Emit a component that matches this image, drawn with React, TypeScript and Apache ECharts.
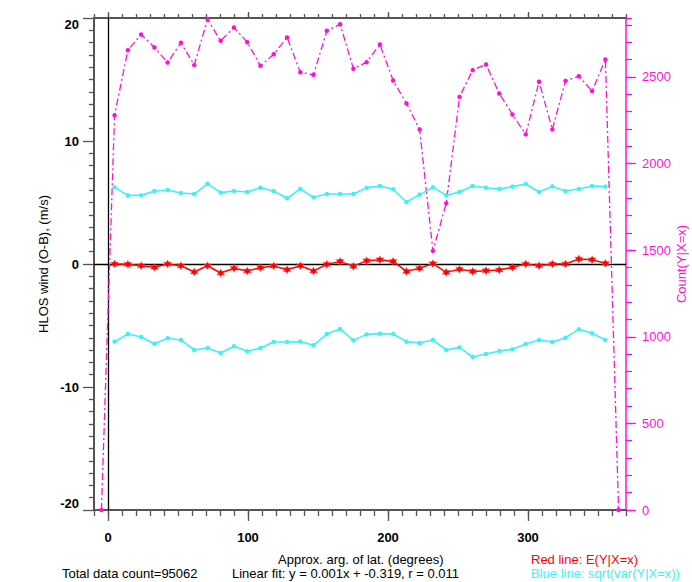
import React, { useEffect, useRef } from "react";
import * as echarts from "echarts";

// Bin centres (degrees) of the 38 latitude-argument bins
const binCenters = [
  4.7, 14.2, 23.7, 33.2, 42.6, 52.1, 61.6, 71.1, 80.5, 90.0,
  99.5, 108.9, 118.4, 127.9, 137.4, 146.8, 156.3, 165.8, 175.3, 184.7,
  194.2, 203.7, 213.2, 222.6, 232.1, 241.6, 251.1, 260.5, 270.0, 279.5,
  288.9, 298.4, 307.9, 317.4, 326.8, 336.3, 345.8, 355.3,
];

// Count(Y|X=x)
const countValues = [
  2279, 2654, 2745, 2670, 2583, 2697, 2568, 2833, 2708, 2785,
  2700, 2564, 2631, 2728, 2527, 2512, 2766, 2804, 2547, 2585,
  2687, 2479, 2347, 2197, 1496, 1770, 2385, 2539, 2572, 2404,
  2283, 2168, 2472, 2197, 2477, 2504, 2418, 2601,
];
// empty bins just outside the range
const countEdgeX = [-4.7, 364.7];
const countEdgeValues = [0, 0];

// E(Y|X=x)
const meanValues = [
  0.0, -0.03, -0.14, -0.27, 0.0, -0.14, -0.65, -0.14, -0.73, -0.35,
  -0.57, -0.3, -0.16, -0.46, -0.14, -0.57, -0.03, 0.21, -0.19, 0.27,
  0.35, 0.21, -0.6, -0.35, 0.03, -0.68, -0.43, -0.6, -0.54, -0.49,
  -0.27, 0.0, -0.14, 0.0, 0.0, 0.41, 0.35, 0.05,
];

// +sqrt(var(Y|X=x))
const sdUpper = [
  6.23, 5.58, 5.58, 5.93, 6.02, 5.77, 5.69, 6.53, 5.8, 5.93,
  5.85, 6.2, 5.93, 5.34, 6.1, 5.42, 5.69, 5.69, 5.69, 6.19,
  6.34, 6.07, 5.04, 5.64, 6.23, 5.58, 5.85, 6.34, 6.2, 6.1,
  6.29, 6.5, 5.85, 6.31, 5.93, 6.1, 6.34, 6.29,
];

// -sqrt(var(Y|X=x))
const sdLower = [
  -6.31, -5.69, -5.93, -6.48, -6.04, -6.18, -6.99, -6.83, -7.24, -6.69,
  -7.1, -6.83, -6.34, -6.34, -6.31, -6.61, -5.69, -5.28, -6.21, -5.72,
  -5.66, -5.69, -6.31, -6.42, -6.18, -6.99, -6.78, -7.56, -7.32, -7.07,
  -6.94, -6.5, -6.18, -6.34, -5.99, -5.31, -5.63, -6.18,
];

const xMajorTicks = [0, 100, 200, 300];
const countMajorTicks = [0, 500, 1000, 1500, 2000, 2500];

const FONT = '"Liberation Sans", Arial, Helvetica, sans-serif';
const MAGENTA = "#ff10d8";
const CYAN = "#3ef0f8";
const RED = "#ff0000";
const AXIS = "#555555";

const STAR =
  "path://M0,-10 L2.6,-4.5 L8.7,-5 L5.2,0 L8.7,5 L2.6,4.5 L0,10 L-2.6,4.5 L-8.7,5 L-5.2,0 L-8.7,-5 L-2.6,-4.5 Z";

export default function App() {
  const ref = useRef<HTMLDivElement>(null);

  useEffect(() => {
    if (!ref.current) return;
    const chart = echarts.init(ref.current, undefined, { renderer: "svg" });

    const pair = (arr: number[]) => binCenters.map((x, i) => [x, arr[i]]);
    const countData = [
      [countEdgeX[0], countEdgeValues[0]],
      ...pair(countValues),
      [countEdgeX[1], countEdgeValues[1]],
    ];

    const tickStyle = { color: AXIS, width: 1.3 };

    chart.setOption({
      animation: false,
      backgroundColor: "#ffffff",
      textStyle: { fontFamily: FONT },
      grid: {
        left: 94,
        right: 66,
        top: 18,
        bottom: 72,
        containLabel: false,
        outerBoundsMode: "none",
      },
      xAxis: [
        {
          type: "value",
          min: -10,
          max: 370,
          interval: 10,
          position: "bottom",
          axisLine: { show: true, onZero: false, lineStyle: { color: AXIS, width: 2 } },
          axisTick: { show: true, length: 6, lineStyle: tickStyle },
          axisLabel: {
            formatter: (v: number) => (v % 100 === 0 ? String(v) : ""),
            color: "#000",
            fontWeight: "bold",
            fontSize: 13,
            fontFamily: FONT,
            margin: 21,
          },
          splitLine: { show: false },
        },
        {
          type: "value",
          min: -10,
          max: 370,
          position: "bottom",
          axisLine: { show: false, onZero: false },
          axisTick: { show: true, length: 11, customValues: xMajorTicks, lineStyle: tickStyle },
          axisLabel: { show: false },
          splitLine: { show: false },
        },
        {
          type: "value",
          min: -10,
          max: 370,
          interval: 10,
          position: "top",
          axisLine: { show: true, onZero: false, lineStyle: { color: AXIS, width: 2 } },
          axisTick: { show: true, length: 4, lineStyle: tickStyle },
          axisLabel: { show: false },
          splitLine: { show: false },
        },
        {
          type: "value",
          min: -10,
          max: 370,
          position: "top",
          axisLine: { show: false, onZero: false },
          axisTick: { show: true, length: 6, customValues: xMajorTicks, lineStyle: tickStyle },
          axisLabel: { show: false },
          splitLine: { show: false },
        },
      ],
      yAxis: [
        {
          type: "value",
          min: -20,
          max: 20,
          interval: 10,
          position: "left",
          name: "HLOS wind (O-B), (m/s)",
          nameLocation: "middle",
          nameRotate: 90,
          nameGap: 44,
          nameMoveOverlap: false,
          nameTextStyle: { color: "#000", fontSize: 13, fontFamily: FONT },
          axisLine: { show: true, onZero: false, lineStyle: { color: AXIS, width: 2 } },
          axisTick: { show: true, length: 11, lineStyle: tickStyle },
          minorTick: { show: true, splitNumber: 10, length: 5, lineStyle: tickStyle },
          axisLabel: {
            color: "#000",
            fontWeight: "bold",
            fontSize: 13,
            fontFamily: FONT,
            margin: 15,
            verticalAlignMaxLabel: "top",
            verticalAlignMinLabel: "bottom",
          },
          splitLine: { show: false },
          minorSplitLine: { show: false },
        },
        {
          type: "value",
          min: 0,
          max: 2840,
          interval: 100,
          position: "right",
          name: "Count(Y|X=x)",
          nameLocation: "middle",
          nameRotate: 90,
          nameGap: 49,
          nameMoveOverlap: false,
          nameTextStyle: { color: MAGENTA, fontSize: 13, fontFamily: FONT },
          axisLine: { show: true, onZero: false, lineStyle: { color: MAGENTA, width: 1.5 } },
          axisTick: { show: true, length: 6, lineStyle: { color: MAGENTA, width: 1.3 } },
          axisLabel: {
            formatter: (v: number) => (v % 500 === 0 ? String(v) : ""),
            color: MAGENTA,
            fontSize: 13,
            fontFamily: FONT,
            margin: 16,
          },
          splitLine: { show: false },
        },
        {
          type: "value",
          min: 0,
          max: 2840,
          position: "right",
          axisLine: { show: false, onZero: false },
          axisTick: {
            show: true,
            length: 10,
            customValues: countMajorTicks,
            lineStyle: { color: MAGENTA, width: 1.3 },
          },
          axisLabel: { show: false },
          splitLine: { show: false },
        },
      ],
      series: [
        {
          type: "line",
          name: "count",
          xAxisIndex: 0,
          yAxisIndex: 1,
          data: countData,
          symbol: "circle",
          symbolSize: 4.5,
          itemStyle: { color: MAGENTA },
          lineStyle: { color: MAGENTA, width: 1.3, type: [7, 3, 2, 3] },
          z: 2,
        },
        {
          type: "line",
          name: "sd upper",
          xAxisIndex: 0,
          yAxisIndex: 0,
          data: pair(sdUpper),
          symbol: "circle",
          symbolSize: 4.5,
          itemStyle: { color: CYAN },
          lineStyle: { color: CYAN, width: 1.6 },
          z: 3,
        },
        {
          type: "line",
          name: "sd lower",
          xAxisIndex: 0,
          yAxisIndex: 0,
          data: pair(sdLower),
          symbol: "circle",
          symbolSize: 4.5,
          itemStyle: { color: CYAN },
          lineStyle: { color: CYAN, width: 1.6 },
          z: 3,
        },
        {
          type: "line",
          name: "mean",
          xAxisIndex: 0,
          yAxisIndex: 0,
          data: pair(meanValues),
          symbol: STAR,
          symbolSize: 8,
          itemStyle: { color: RED, borderColor: "rgba(255,90,90,0.4)", borderWidth: 1 },
          lineStyle: { color: RED, width: 1.5 },
          z: 4,
          markLine: {
            silent: true,
            symbol: ["none", "none"],
            label: { show: false },
            lineStyle: { color: "#000", width: 1.3, type: "solid" },
            data: [{ yAxis: 0 }, { xAxis: 0 }],
            z: 1,
          },
        },
      ],
      graphic: [
        {
          type: "text",
          left: 278,
          top: 553,
          style: {
            text: "Approx. arg. of lat. (degrees)",
            fill: "#000",
            font: `13px ${FONT}`,
          },
        },
        {
          type: "text",
          left: 531,
          top: 553,
          style: { text: "Red line: E(Y|X=x)", fill: RED, font: `13px ${FONT}` },
        },
        {
          type: "text",
          left: 62,
          top: 567,
          style: { text: "Total data count=95062", fill: "#000", font: `13px ${FONT}` },
        },
        {
          type: "text",
          left: 232,
          top: 567,
          style: {
            text: "Linear fit: y = 0.001x + -0.319, r = 0.011",
            fill: "#000",
            font: `13px ${FONT}`,
          },
        },
        {
          type: "text",
          left: 531,
          top: 567,
          style: { text: "Blue line: sqrt(var(Y|X=x))", fill: CYAN, font: `13px ${FONT}` },
        },
      ],
    });

    return () => chart.dispose();
  }, []);

  return (
    <div
      ref={ref}
      style={{ position: "fixed", left: 0, top: 0, width: 692, height: 582, background: "#fff" }}
    />
  );
}
